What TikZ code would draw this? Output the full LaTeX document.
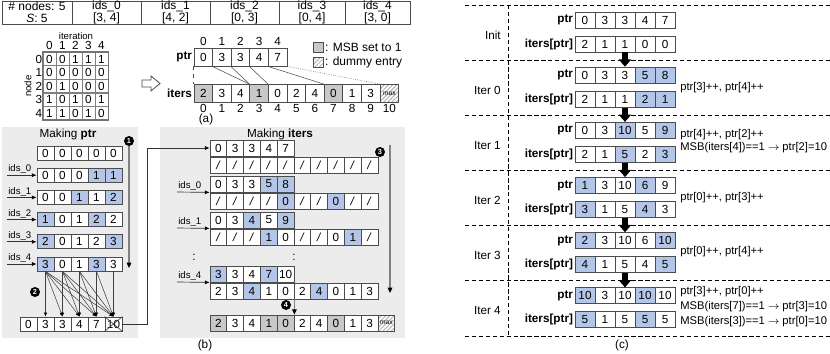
\documentclass[tikz,border=0pt]{standalone}
\usepackage{fontspec}
\setmainfont{Liberation Sans}
\usetikzlibrary{arrows.meta, patterns, patterns.meta}

\definecolor{hiblue}{RGB}{180,198,231}
\definecolor{msbgray}{RGB}{200,200,200}
\definecolor{panelgray}{RGB}{236,236,236}
\newcommand\cellfont{\fontsize{8.8}{9.5}\selectfont}
\newcommand\smallfont{\fontsize{7.2}{8}\selectfont}
\newcommand\notefont{\fontsize{8.4}{9.5}\selectfont}
\newcommand\maxlbl{{\fontsize{5}{5}\selectfont max}}
\newcommand\slc{\textit{/}}

\begin{document}
\begin{tikzpicture}[x=0.75pt, y=-0.75pt, font=\cellfont,
  cellbox/.style={draw=black!70, line width=0.6pt, inner sep=0pt, fill=white},
  fl0/.style={}, fl1/.style={fill=hiblue}, fl2/.style={fill=msbgray},
  fl3/.style={preaction={fill=white}, pattern={Lines[angle=45,distance=2.2pt,line width=0.7pt]}, pattern color=black!30},
  mcell/.style={draw=black!50, minimum width=9.75pt, minimum height=10.1pt, inner sep=0pt},
  acell/.style={cellbox, minimum width=13.95pt, minimum height=13.5pt},
  pcell/.style={cellbox, minimum width=12.75pt, minimum height=10.5pt},
  qcell/.style={cellbox, minimum width=12.6pt, minimum height=12pt},
  ccell/.style={cellbox, minimum width=15pt, minimum height=12pt},
  hdr/.style={draw=black!70, align=center, minimum height=17.25pt, inner sep=0pt, font=\fontsize{9}{9}\selectfont},
  numdot/.style={circle, fill=black, text=white, inner sep=0pt, minimum size=7.5pt, font=\fontsize{5.5}{5.5}\selectfont\bfseries},
  lbl/.style={anchor=south west, inner sep=0.8pt, font=\smallfont},
  arr/.style={black!80, line width=0.5pt, -{Latex[length=3.5pt,width=3pt,black]}},
  fan/.style={black!75, line width=0.4pt, -{Latex[length=3pt,width=2.6pt,black]}},
  vline/.style={black!50, line width=0.8pt, -{Triangle[length=4pt,width=3.5pt,black]}},
  blk/.style={line width=4.5pt, -{Triangle[length=5.5pt,width=9pt]}},
  sep/.style={dash pattern=on 3.2pt off 2pt, line width=0.7pt}]
  \useasboundingbox (0,0) rectangle (830,353);

  % (a) table of ids
  \node[hdr, minimum width=52.5pt]  (t-0) at (37,12.5)    {\# nodes: 5\\\textit{S}: 5};
  \node[hdr, minimum width=51.75pt] (t-1) at (106.5,12.5) {ids\_0\\{[}3, 4{]}};
  \node[hdr, minimum width=51.75pt] (t-2) at (175.5,12.5) {ids\_1\\{[}4, 2{]}};
  \node[hdr, minimum width=51.75pt] (t-3) at (244.5,12.5) {ids\_2\\{[}0, 3{]}};
  \node[hdr, minimum width=49.5pt]  (t-4) at (312,12.5)   {ids\_3\\{[}0, 4{]}};
  \node[hdr, minimum width=48.75pt] (t-5) at (377.5,12.5) {ids\_4\\{[}3, 0{]}};

  % matrix
  \node[font=\smallfont] (itl) at (76,36) {iteration};
  \node[font=\smallfont, rotate=90] (ndl) at (28,86) {node};
  \foreach \j in {0,...,4} \node (mh-\j) at (49.5+13*\j,45.5) {\j};
  \foreach \i in {0,...,4} \node (mr-\i) at (39,59+13.5*\i) {\i};
  \foreach \row [count=\i from 0] in {{0,0,1,1,1},{0,0,0,0,0},{0,1,0,0,0},{1,0,1,0,1},{1,1,0,1,0}}
    \foreach \v [count=\j from 0] in \row
      \node[mcell] (m-\i-\j) at (49.5+13*\j,59+13.5*\i) {\v};
  \draw[black!55, line width=1pt] (m-0-0.north west) rectangle (m-4-4.south east);
  \draw[black!70, line width=0.6pt] (142,80) -- (151,80) -- (151,76) -- (160,83.5) -- (151,91) -- (151,87) -- (142,87) -- cycle;

  % ptr and iters
  \foreach \v [count=\j from 0] in {0,3,3,4,7} {
    \node[acell] (ap-\j) at (203.3+18.6*\j,57) {\v};
    \node (aph-\j) at (203.3+18.6*\j,41) {\j};
  }
  \foreach \v/\f [count=\j from 0] in {2/2,3/0,4/0,1/2,0/0,2/0,4/0,0/2,1/0,3/0,\maxlbl/3} {
    \node[acell, fl\f] (ai-\j) at (203.3+18.6*\j,93.5) {\v};
    \node (aih-\j) at (203.3+18.6*\j,108.5) {\j};
  }
  \node[anchor=east, inner sep=1pt, font=\cellfont\bfseries] (apl) at (ap-0.west) {ptr};
  \node[anchor=east, inner sep=1pt, font=\cellfont\bfseries] (ail) at (ai-0.west) {iters};
  \draw[dashed, black!70] (ap-0.south west) -- (ai-0.north west);
  \draw[black!70] (ap-1.south west) -- (ai-3.north west);
  \draw[black!70] (ap-2.south west) -- (ai-3.north west);
  \draw[black!70] (ap-3.south west) -- (ai-4.north west);
  \draw[black!70] (ap-4.south west) -- (ai-7.north west);
  \draw[densely dotted, black!70] (ap-4.south east) -- (ai-10.north west);

  % legend
  \node[cellbox, fill=msbgray, minimum size=7.5pt] (lg-1) at (318,47.5) {};
  \node[anchor=west, inner sep=1pt, font=\fontsize{9}{9}\selectfont] (lgt-1) at (lg-1.east) {: MSB set to 1};
  \node[cellbox, fl3, minimum size=7.5pt] (lg-2) at (318,62.5) {};
  \node[anchor=west, inner sep=1pt, font=\fontsize{9}{9}\selectfont] (lgt-2) at (lg-2.east) {: dummy entry};
  \node (cap-a) at (206,119.5) {(a)};

  % (b) making ptr
  \fill[panelgray] (2,127) rectangle (138,338);
  \fill[panelgray] (160,127) rectangle (405,338);
  \node (ttl-p) at (68,134) {Making \textbf{ptr}};
  \node[numdot] (n1) at (129,141) {1};
  \coordinate (e1) at (129,268);
  \draw[vline] (n1.south) -- (e1);
  \foreach \row [count=\r from 0] in {{0/0,0/0,0/0,0/0,0/0},{0/0,0/0,0/0,1/1,1/1},{0/0,0/0,1/1,1/0,2/1},{1/1,0/0,1/0,2/1,2/0},{2/1,0/0,1/0,2/0,3/1},{3/1,0/0,1/0,3/1,3/0}}
    \foreach \v/\f [count=\j from 0] in \row
      \node[pcell, fl\f] (mp-\r-\j) at (45.5+17*\j,153+22.2*\r) {\v};
  \foreach \r in {1,...,5} {
    \pgfmathtruncatemacro\k{\r-1}
    \node[lbl] (pl-\r) at (7,153+22.2*\r) {ids\_\k};
    \draw[arr] (pl-\r.south west) -- (mp-\r-0.west);
  }
  \foreach \v [count=\k from 0] in {0,3,3,4,7,10}
    \node[pcell] (mf-\k) at (28.5+17*\k,324) {\v};
  \draw[black!80] (mf-5.north west) -- (mf-5.south east) (mf-5.south west) -- (mf-5.north east);
  \foreach \j in {0,...,4} {
    \pgfmathtruncatemacro\a{\j+1}
    \foreach \k in {\a,...,5} \draw[fan] (mp-5-\j.south) -- (mf-\k.north);
  }
  \node[numdot] (n2) at (35,292) {2};

  % (b) making iters
  \node (ttl-i) at (280,134.5) {Making \textbf{iters}};
  \node[numdot] (n3) at (380,152) {3};
  \coordinate (s3) at (390,145);
  \coordinate (e3) at (390,293);
  \draw[vline] (s3) -- (e3);
  \foreach \cy/\row [count=\r from 0] in {148/{0/0,3/0,3/0,4/0,7/0},184/{0/0,3/0,3/0,5/1,8/1},220/{0/0,3/0,4/1,5/0,9/1},274/{3/1,3/0,4/0,7/1,10/0}}
    \foreach \v/\f [count=\j from 0] in \row
      \node[qcell, fl\f] (qp-\r-\j) at (218.4+16.8*\j,\cy) {\v};
  \foreach \cy/\row [count=\r from 0] in {165/{\slc/0,\slc/0,\slc/0,\slc/0,\slc/0,\slc/0,\slc/0,\slc/0,\slc/0,\slc/0},201/{\slc/0,\slc/0,\slc/0,\slc/0,0/1,\slc/0,\slc/0,0/1,\slc/0,\slc/0},237/{\slc/0,\slc/0,\slc/0,1/1,0/0,\slc/0,\slc/0,0/0,1/1,\slc/0},291/{2/0,3/0,4/1,1/0,0/0,2/0,4/1,0/0,1/0,3/0}}
    \foreach \v/\f [count=\j from 0] in \row
      \node[qcell, fl\f] (qi-\r-\j) at (218.4+16.8*\j,\cy) {\v};
  \foreach \r/\k/\cy in {1/0/192,2/1/228,3/4/282} {
    \node[lbl] (ql-\r) at (177,\cy) {ids\_\k};
    \draw[arr] (ql-\r.south west) -- (qp-\r-0.south west);
  }
  \node (dl) at (194,257) {:};
  \node (dr) at (294,257) {:};
  \draw[arr] (mf-5.east) -- ++(25,0) |- (qp-0-0.west);
  \foreach \v/\f [count=\j from 0] in {2/2,3/0,4/0,1/2,0/2,2/0,4/0,0/2,1/0,3/0,\maxlbl/3}
    \node[qcell, fl\f] (qf-\j) at (218.4+16.8*\j,323) {\v};
  \draw[vline] (qi-3-4.south east) -- (qf-4.north east);
  \node[numdot] (n4) at (286,305) {4};
  \node (cap-b) at (205,345) {(b)};

  % (c) iterations
  \foreach \k in {0,...,6} \draw[sep] (465,5+55.17*\k) -- (830,5+55.17*\k);
  \draw[sep] (508,5) -- (508,336);
  \foreach \name/\prow/\irow [count=\s from 0] in {
    Init/{0/0,3/0,3/0,4/0,7/0}/{2/0,1/0,1/0,0/0,0/0},
    Iter 0/{0/0,3/0,3/0,5/1,8/1}/{2/0,1/0,1/0,2/1,1/1},
    Iter 1/{0/0,3/0,10/1,5/0,9/1}/{2/0,1/0,5/1,2/0,3/1},
    Iter 2/{1/1,3/0,10/0,6/1,9/0}/{3/1,1/0,5/0,4/1,3/0},
    Iter 3/{2/1,3/0,10/0,6/0,10/1}/{4/1,1/0,5/0,4/0,5/1},
    Iter 4/{10/1,3/0,10/0,10/1,10/0}/{5/1,1/0,5/0,5/1,5/0}} {
    \pgfmathsetmacro\secy{5+55.17*\s}
    \node[anchor=east, inner sep=0pt] (cs-\s) at (501,\secy+30) {\name};
    \foreach \v/\f [count=\j from 0] in \prow
      \node[ccell, fl\f] (cp-\s-\j) at (585+20*\j,\secy+15) {\v};
    \foreach \v/\f [count=\j from 0] in \irow
      \node[ccell, fl\f] (ci-\s-\j) at (585+20*\j,\secy+39) {\v};
    \node[anchor=east, inner sep=1pt, font=\cellfont\bfseries] (cpl-\s) at (cp-\s-0.west) {ptr};
    \node[anchor=east, inner sep=1pt, font=\cellfont\bfseries] (cil-\s) at (ci-\s-0.west) {iters[ptr]};
  }
  \foreach \s in {1,...,5} {
    \pgfmathtruncatemacro\prv{\s-1}
    \draw[blk] (ci-\prv-2.south) -- (cp-\s-2.north);
  }
  \begin{scope}[every node/.style={anchor=west, inner sep=0pt, font=\notefont}]
    \node (tx-1) at (680,88) {ptr[3]++, ptr[4]++};
    \node (tx-2) at (680,135) {ptr[4]++, ptr[2]++};
    \node (tx-3) at (680,148) {MSB(iters[4])==1 $\rightarrow$ ptr[2]=10};
    \node (tx-4) at (680,198) {ptr[0]++, ptr[3]++};
    \node (tx-5) at (680,252) {ptr[0]++, ptr[4]++};
    \node (tx-6) at (680,292) {ptr[3]++, ptr[0]++};
    \node (tx-7) at (680,307) {MSB(iters[7])==1 $\rightarrow$ ptr[3]=10};
    \node (tx-8) at (680,322) {MSB(iters[3])==1 $\rightarrow$ ptr[0]=10};
  \end{scope}
  \node (cap-c) at (622,345) {(c)};
\end{tikzpicture}
\end{document}
